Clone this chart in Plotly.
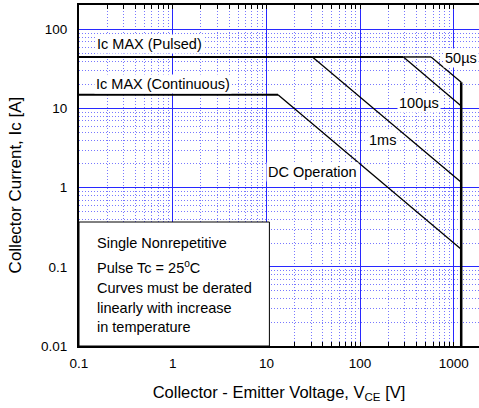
import numpy as np
import plotly.graph_objects as go

# ---- data (V in volts, I in amperes) ----
pulsed_v = [0.1, 290]
pulsed_i = [45, 45]
pulsed_tail_v = [290, 573]
pulsed_tail_i = [45, 45]
cont_v = [0.1, 13.3]
cont_i = [15, 15]
us50_v = [573, 1200]
us50_i = [45, 21.5]
us100_v = [290, 1200]
us100_i = [45, 10.8]
ms1_v = [31, 1200]
ms1_i = [45, 1.17]
dc_v = [13.3, 1200]
dc_i = [15, 0.167]
vmax_v = [1200, 1200]
vmax_i = [21.5, 0.01]

x_ticks = [0.1, 1, 10, 100, 1000]
x_ticktext = ["0.1", "1", "10", "100", "1000"]
y_ticks = [0.01, 0.1, 1, 10, 100]
y_ticktext = ["0.01", "0.1", "1", "10", "100"]
minor_mult = [2, 3, 4, 5, 6, 7, 8, 9]

x_all = []
x_all_text = []
for d, t in zip(x_ticks, x_ticktext):
    x_all.append(d)
    x_all_text.append(t)
    for m in minor_mult:
        x_all.append(d * m)
        x_all_text.append("")
y_all = []
y_all_text = []
for d, t in zip(y_ticks, y_ticktext):
    y_all.append(d)
    y_all_text.append(t)
    for m in minor_mult:
        y_all.append(d * m)
        y_all_text.append("")

FONT = "Liberation Sans, Arial, sans-serif"
X_RANGE = [-1, 3.269]
Y_RANGE = [-2, 2.31]

fig = go.Figure()

def add_line(xv, yv, w, xa="x", ya="y"):
    fig.add_trace(go.Scatter(x=xv, y=yv, mode="lines", xaxis=xa, yaxis=ya,
                             line=dict(color="black", width=w),
                             showlegend=False, hoverinfo="skip"))

add_line(pulsed_v, pulsed_i, 2)
add_line(pulsed_tail_v, pulsed_tail_i, 1.4)
add_line(cont_v, cont_i, 2)
add_line(us50_v, us50_i, 1.3)
add_line(us100_v, us100_i, 1.3)
add_line(ms1_v, ms1_i, 1.3)
add_line(dc_v, dc_i, 1.3)
add_line(vmax_v, vmax_i, 2.5, "x2", "y2")

major_grid = "rgb(40,40,255)"
minor_grid = "rgb(120,120,255)"

fig.update_layout(
    xaxis=dict(
        type="log", range=X_RANGE,
        tickmode="array", tickvals=x_all, ticktext=x_all_text,
        showgrid=True, gridcolor=minor_grid, griddash="1px,2px", gridwidth=1,
        showline=True, linecolor="black", linewidth=2, mirror="ticks",
        ticks="inside", ticklen=4, tickcolor="black", ticklabelstandoff=4,
        tickfont=dict(family=FONT, size=13.5, color="black"),
        title=dict(text="Collector - Emitter Voltage, V<sub>CE</sub> [V]",
                   font=dict(family=FONT, size=16.5, color="black"), standoff=16),
        zeroline=False,
    ),
    yaxis=dict(
        type="log", range=Y_RANGE,
        tickmode="array", tickvals=y_all, ticktext=y_all_text,
        showgrid=True, gridcolor=minor_grid, griddash="1px,2px", gridwidth=1,
        showline=True, linecolor="black", linewidth=2,
        ticks="", ticklabelstandoff=7,
        tickfont=dict(family=FONT, size=13.5, color="black"),
        zeroline=False,
    ),
    xaxis2=dict(
        type="log", range=X_RANGE, overlaying="x", side="bottom",
        tickmode="array", tickvals=x_ticks, showticklabels=False, ticks="",
        showgrid=True, gridcolor=major_grid, gridwidth=1,
        showline=False, zeroline=False,
    ),
    yaxis2=dict(
        type="log", range=Y_RANGE, overlaying="y", side="left",
        tickmode="array", tickvals=y_ticks, showticklabels=False, ticks="",
        showgrid=True, gridcolor=major_grid, gridwidth=1,
        showline=False, zeroline=False,
    ),
)

# y-axis title as rotated annotation (positioned like the reference)
fig.add_annotation(text="Collector Current, Ic [A]", xref="paper", yref="paper",
                   x=-0.16, y=0.471, textangle=-90, showarrow=False,
                   xanchor="center", yanchor="middle",
                   font=dict(family=FONT, size=17, color="black"))

# note box
fig.add_shape(type="rect", xref="paper", yref="paper",
              x0=0, x1=0.476, y0=0, y1=0.3636,
              line=dict(color="black", width=1), fillcolor="white", layer="above")

def label(text, x, y, bg=True):
    fig.add_annotation(text=text, xref="paper", yref="paper", x=x, y=y,
                       xanchor="left", yanchor="middle", showarrow=False,
                       font=dict(family=FONT, size=14.5, color="black"),
                       bgcolor="white" if bg else None, borderpad=1)

label("Ic MAX (Pulsed)", 0.040, 0.885)
label("Ic MAX (Continuous)", 0.038, 0.767)
label("50µs", 0.910, 0.846)
label("100µs", 0.795, 0.714)
label("1ms", 0.720, 0.6035)
label("DC Operation", 0.467, 0.5088)

label("Single Nonrepetitive", 0.041, 0.303, bg=False)
label("Pulse Tc = 25<sup>o</sup>C", 0.041, 0.2314, bg=False)
label("Curves must be derated", 0.041, 0.171, bg=False)
label("linearly with increase", 0.041, 0.1122, bg=False)
label("in temperature", 0.041, 0.0543, bg=False)

fig.update_layout(
    width=479, height=408,
    margin=dict(l=79, r=0, t=5, b=62, autoexpand=False),
    plot_bgcolor="white", paper_bgcolor="white",
    font=dict(family=FONT, color="black"),
)

fig.write_html("out.html", config={"displayModeBar": False, "staticPlot": True},
               post_script="document.body.style.margin='0';document.body.style.overflow='hidden';")
